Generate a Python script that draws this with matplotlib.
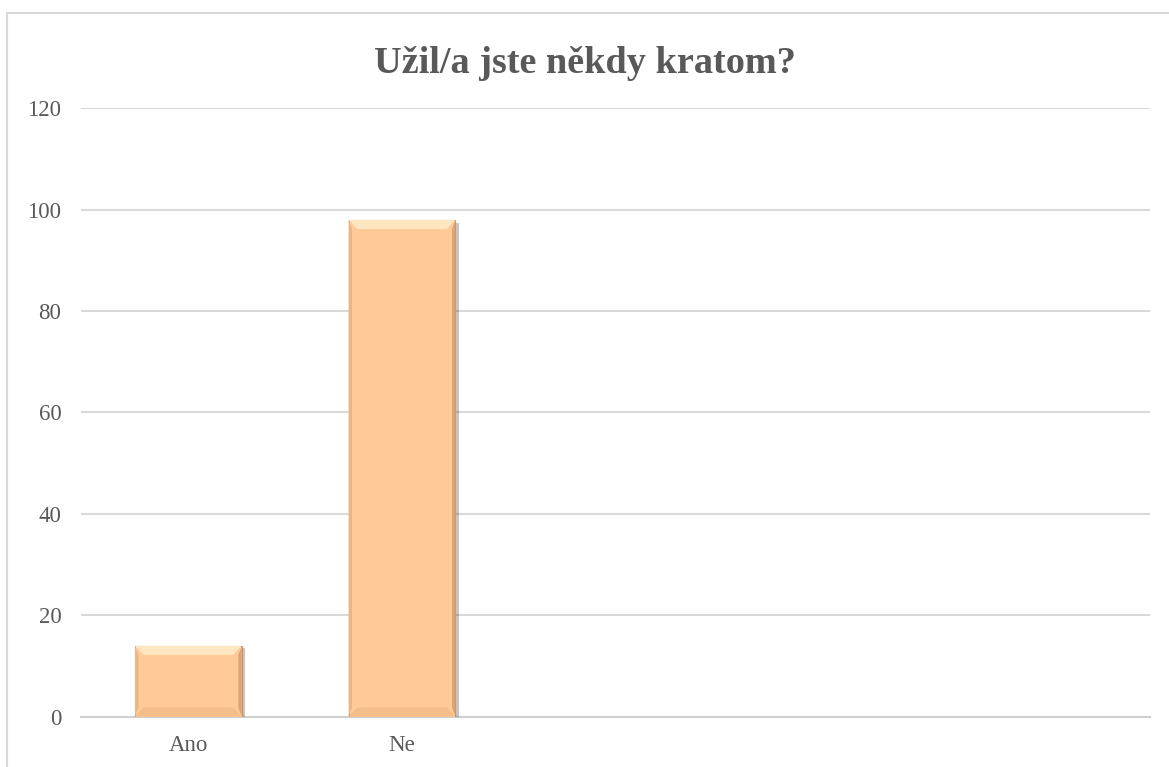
import matplotlib.pyplot as plt
import matplotlib.patches as mpatches
import matplotlib.patheffects as pe
import numpy as np

# ==========================================
# Data
# ==========================================
categories = ["Ano", "Ne", "", "", ""]
values = [14, 98, 0, 0, 0]
y_ticks = [0, 20, 40, 60, 80, 100, 120]
title = "Užil/a jste někdy kratom?"

TEXT_COLOR = "#595959"
GRID_COLOR = "#D9D9D9"
BAR_COLOR = "#FFCA97"

plt.rcParams['font.family'] = ['Liberation Serif', 'DejaVu Serif']

fig = plt.figure(figsize=(11.69, 7.67), dpi=100)
ax = fig.add_axes([0.0697, 0.0656, 0.9140, 0.7932])

# chart-area border (left + top visible)
fig.patches.append(mpatches.Rectangle((0.006, -0.05), 1.2, 1.033,
                                      transform=fig.transFigure, fill=False,
                                      edgecolor=GRID_COLOR, linewidth=1.5))

x = np.arange(len(categories))
bar_w = 0.5
shown = [i for i, v in enumerate(values) if v > 0]
bars = ax.bar(x[shown], [values[i] for i in shown], width=bar_w, color=BAR_COLOR,
              edgecolor="#B9875C", linewidth=0.6, zorder=3)
for b in bars:
    b.set_path_effects([pe.SimplePatchShadow(offset=(2.5, -2), alpha=0.3),
                        pe.Normal()])

# bevel on each bar (sized relative to the bar)
dx, dy = 0.04, 1.8
for i in shown:
    v = values[i]
    l, r = x[i] - bar_w / 2, x[i] + bar_w / 2
    top = [(l, v), (r, v), (r - dx, v - dy), (l + dx, v - dy)]
    bot = [(l, 0), (r, 0), (r - dx, dy), (l + dx, dy)]
    left = [(l, 0), (l + dx * 0.4, dy), (l + dx * 0.4, v - dy), (l, v)]
    right = [(r, 0), (r - dx * 0.4, dy), (r - dx * 0.4, v - dy), (r, v)]
    ax.add_patch(mpatches.Polygon(top, closed=True, color="#FFE6C2", lw=0, zorder=4))
    ax.add_patch(mpatches.Polygon(bot, closed=True, color="#F5BD8A", lw=0, zorder=4))
    ax.add_patch(mpatches.Polygon(left, closed=True, color="#EDB582", lw=0, zorder=4))
    ax.add_patch(mpatches.Polygon(right, closed=True, color="#DDA472", lw=0, zorder=4))

ax.set_xlim(-0.5, len(categories) - 0.5)
ax.set_ylim(0, 120)
ax.set_yticks(y_ticks)
ax.set_xticks(x)
ax.set_xticklabels(categories)
ax.tick_params(axis='y', length=0, pad=14.5, labelsize=16.5, labelcolor=TEXT_COLOR)
ax.tick_params(axis='x', length=0, pad=13, labelsize=16.5, labelcolor=TEXT_COLOR)

ax.grid(axis='y', color=GRID_COLOR, linewidth=1.5, zorder=0)
ax.set_axisbelow(True)
for side in ['top', 'right', 'left']:
    ax.spines[side].set_visible(False)
ax.spines['bottom'].set_color("#D0D0D0")
ax.spines['bottom'].set_linewidth(1.5)

fig.text(0.5, 0.917, title, ha='center', va='center', fontsize=27.5,
         fontweight='bold', color=TEXT_COLOR)

plt.savefig("out.png", dpi=100)
plt.close(fig)
